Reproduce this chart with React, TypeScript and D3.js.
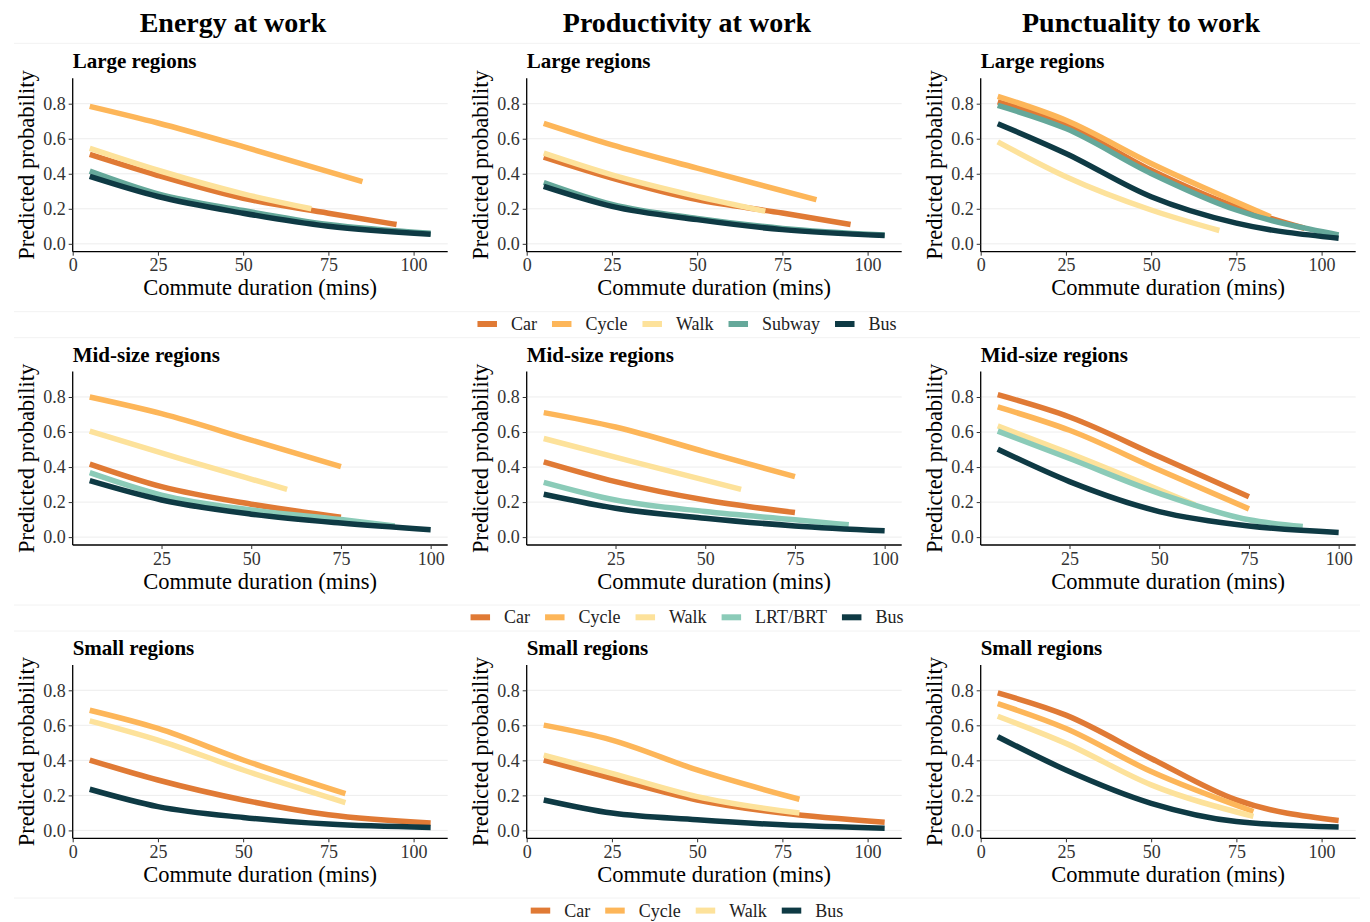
import React, { useEffect, useRef } from 'react';
import * as d3 from 'd3';

type Series = { mode: string; mins: number[]; p: number[] };

const outcomes = ['Energy at work', 'Productivity at work', 'Punctuality to work'];
const regionTitles = ['Large regions', 'Mid-size regions', 'Small regions'];
const legendModes = [
    ['Car', 'Cycle', 'Walk', 'Subway', 'Bus'],
    ['Car', 'Cycle', 'Walk', 'LRT/BRT', 'Bus'],
    ['Car', 'Cycle', 'Walk', 'Bus'],
];
const modeColors: Record<string, string> = {
    Car: '#E07A35',
    Cycle: '#FDB659',
    Walk: '#FDE29B',
    Subway: '#65A89A',
    'LRT/BRT': '#8BCBB8',
    Bus: '#0E3A44',
};
const yTicks = [0, 0.2, 0.4, 0.6, 0.8];
const xTicks = [0, 25, 50, 75, 100];

// predicted probabilities, per panel
const energyLarge: Series[] = [
    { mode: 'Car', mins: [5, 25, 50, 75, 95], p: [0.51, 0.39, 0.26, 0.175, 0.11] },
    { mode: 'Cycle', mins: [5, 25, 50, 85], p: [0.785, 0.69, 0.555, 0.355] },
    { mode: 'Walk', mins: [5, 25, 50, 70], p: [0.545, 0.42, 0.285, 0.2] },
    { mode: 'Subway', mins: [5, 25, 50, 75, 105], p: [0.415, 0.285, 0.19, 0.11, 0.06] },
    { mode: 'Bus', mins: [5, 25, 50, 75, 105], p: [0.385, 0.27, 0.175, 0.1, 0.055] },
];
const productivityLarge: Series[] = [
    { mode: 'Car', mins: [5, 25, 50, 75, 95], p: [0.495, 0.375, 0.252, 0.176, 0.11] },
    { mode: 'Cycle', mins: [5, 25, 50, 85], p: [0.688, 0.565, 0.432, 0.252] },
    { mode: 'Walk', mins: [5, 25, 50, 70], p: [0.518, 0.394, 0.271, 0.186] },
    { mode: 'Subway', mins: [5, 25, 50, 75, 105], p: [0.35, 0.225, 0.145, 0.088, 0.05] },
    { mode: 'Bus', mins: [5, 25, 50, 75, 105], p: [0.328, 0.214, 0.138, 0.081, 0.047] },
];
const punctualityLarge: Series[] = [
    { mode: 'Car', mins: [5, 25, 50, 75, 95], p: [0.81, 0.68, 0.42, 0.21, 0.089] },
    { mode: 'Cycle', mins: [5, 25, 50, 85], p: [0.842, 0.705, 0.459, 0.155] },
    { mode: 'Walk', mins: [5, 25, 50, 70], p: [0.582, 0.383, 0.193, 0.076] },
    { mode: 'Subway', mins: [5, 25, 50, 75, 105], p: [0.79, 0.658, 0.402, 0.193, 0.051] },
    { mode: 'Bus', mins: [5, 25, 50, 75, 105], p: [0.686, 0.516, 0.269, 0.118, 0.032] },
];

const energyMid: Series[] = [
    { mode: 'Car', mins: [5, 25, 50, 75], p: [0.417, 0.288, 0.188, 0.114] },
    { mode: 'Cycle', mins: [5, 25, 50, 75], p: [0.8, 0.705, 0.554, 0.402] },
    { mode: 'Walk', mins: [5, 30, 60], p: [0.605, 0.449, 0.273] },
    { mode: 'LRT/BRT', mins: [5, 25, 50, 75, 90], p: [0.368, 0.24, 0.155, 0.1, 0.064] },
    { mode: 'Bus', mins: [5, 25, 50, 75, 100], p: [0.322, 0.212, 0.131, 0.08, 0.042] },
];
const productivityMid: Series[] = [
    { mode: 'Car', mins: [5, 25, 50, 75], p: [0.43, 0.317, 0.212, 0.14] },
    { mode: 'Cycle', mins: [5, 25, 50, 75], p: [0.711, 0.629, 0.487, 0.345] },
    { mode: 'Walk', mins: [5, 30, 60], p: [0.563, 0.43, 0.273] },
    { mode: 'LRT/BRT', mins: [5, 25, 50, 75, 90], p: [0.313, 0.212, 0.146, 0.099, 0.07] },
    { mode: 'Bus', mins: [5, 25, 50, 75, 100], p: [0.245, 0.165, 0.108, 0.064, 0.036] },
];
const punctualityMid: Series[] = [
    { mode: 'Car', mins: [5, 25, 50, 75], p: [0.813, 0.686, 0.459, 0.231] },
    { mode: 'Cycle', mins: [5, 25, 50, 75], p: [0.743, 0.61, 0.383, 0.161] },
    { mode: 'Walk', mins: [5, 25, 60], p: [0.635, 0.478, 0.184] },
    { mode: 'LRT/BRT', mins: [5, 25, 50, 75, 90], p: [0.605, 0.449, 0.25, 0.099, 0.061] },
    { mode: 'Bus', mins: [5, 25, 50, 75, 100], p: [0.502, 0.317, 0.146, 0.064, 0.027] },
];

const energySmall: Series[] = [
    { mode: 'Car', mins: [5, 25, 50, 75, 105], p: [0.402, 0.288, 0.174, 0.089, 0.042] },
    { mode: 'Cycle', mins: [5, 25, 50, 80], p: [0.686, 0.582, 0.402, 0.21] },
    { mode: 'Walk', mins: [5, 25, 50, 80], p: [0.626, 0.516, 0.345, 0.159] },
    { mode: 'Bus', mins: [5, 25, 50, 75, 105], p: [0.235, 0.136, 0.074, 0.036, 0.017] },
];
const productivitySmall: Series[] = [
    { mode: 'Car', mins: [5, 25, 50, 75, 105], p: [0.402, 0.298, 0.174, 0.099, 0.047] },
    { mode: 'Cycle', mins: [5, 25, 50, 80], p: [0.601, 0.516, 0.345, 0.178] },
    { mode: 'Walk', mins: [5, 25, 50, 80], p: [0.43, 0.326, 0.193, 0.099] },
    { mode: 'Bus', mins: [5, 25, 50, 75, 105], p: [0.174, 0.099, 0.061, 0.032, 0.013] },
];
const punctualitySmall: Series[] = [
    { mode: 'Car', mins: [5, 25, 50, 75, 105], p: [0.785, 0.658, 0.411, 0.174, 0.057] },
    { mode: 'Cycle', mins: [5, 25, 50, 80], p: [0.724, 0.582, 0.336, 0.108] },
    { mode: 'Walk', mins: [5, 25, 50, 80], p: [0.652, 0.497, 0.26, 0.08] },
    { mode: 'Bus', mins: [5, 25, 50, 75, 105], p: [0.535, 0.345, 0.155, 0.051, 0.019] },
];

const panelRows: Series[][][] = [
    [energyLarge, productivityLarge, punctualityLarge],
    [energyMid, productivityMid, punctualityMid],
    [energySmall, productivitySmall, punctualitySmall],
];

const WIDTH = 1370;
const HEIGHT = 922;
const SERIF = '"Liberation Serif", "Times New Roman", Times, serif';

function App() {
    const svgRef = useRef<SVGSVGElement | null>(null);

    useEffect(() => {
        if (!svgRef.current) return;
        const svg = d3.select(svgRef.current);
        svg.selectAll('*').remove();

        svg.append('rect').attr('width', WIDTH).attr('height', HEIGHT).attr('fill', '#fff');

        const colStep = 454;
        const rowStep = 293.3;
        const plotLeft0 = 72.7;
        const plotW = 375;
        const plotTop0 = 78.3;
        const plotH = 173.4;

        // faint separators between the title band, panels and legends
        [43.3, 311.7, 337.7, 605, 631, 898].forEach(y => {
            svg.append('line')
                .attr('x1', 14).attr('x2', WIDTH - 10)
                .attr('y1', y).attr('y2', y)
                .attr('stroke', '#f2f2f2').attr('stroke-width', 1);
        });

        // column titles
        outcomes.forEach((t, c) => {
            svg.append('text')
                .attr('x', 233 + colStep * c)
                .attr('y', 31.7)
                .attr('text-anchor', 'middle')
                .style('font-family', SERIF)
                .style('font-weight', 'bold')
                .style('font-size', '28px')
                .style('fill', '#000')
                .text(t);
        });

        const yScale0 = d3.scaleLinear().domain([-0.045, 0.945]);
        const line = d3.line<[number, number]>().curve(d3.curveMonotoneX);

        panelRows.forEach((row, r) => {
            // shared x range per row, with ggplot's 5% expansion
            const allMins = row.flatMap(panel => panel.flatMap(s => s.mins));
            const [mn, mx] = d3.extent(allMins) as [number, number];
            const pad = (mx - mn) * 0.05;

            row.forEach((panel, c) => {
                const left = plotLeft0 + colStep * c;
                const top = plotTop0 + rowStep * r;
                const bottom = top + plotH;

                const x = d3.scaleLinear().domain([mn - pad, mx + pad]).range([left, left + plotW]);
                const y = yScale0.copy().range([bottom, top]);

                const g = svg.append('g');

                // gridlines
                g.selectAll('.grid')
                    .data(yTicks)
                    .join('line')
                    .attr('x1', left).attr('x2', left + plotW)
                    .attr('y1', d => y(d)).attr('y2', d => y(d))
                    .attr('stroke', '#ebebeb').attr('stroke-width', 0.9);

                // curves
                panel.forEach(s => {
                    const pts = s.mins.map((m, i) => [x(m), y(s.p[i])] as [number, number]);
                    g.append('path')
                        .attr('d', line(pts))
                        .attr('fill', 'none')
                        .attr('stroke', modeColors[s.mode])
                        .attr('stroke-width', 5.5)
                        .attr('stroke-linecap', 'butt');
                });

                // axes
                const xAxis = d3.axisBottom(x)
                    .tickValues(xTicks.filter(v => v >= mn - pad && v <= mx + pad))
                    .tickSize(4).tickPadding(3)
                    .tickFormat(d => String(d));
                const yAxis = d3.axisLeft(y)
                    .tickValues(yTicks)
                    .tickSize(4).tickPadding(3)
                    .tickFormat(d3.format('.1f'));

                const gx = g.append('g').attr('transform', `translate(0,${bottom})`).call(xAxis);
                const gy = g.append('g').attr('transform', `translate(${left},0)`).call(yAxis);
                [gx, gy].forEach(ax => {
                    ax.select('.domain').attr('stroke', '#000').attr('stroke-width', 1.3);
                    ax.selectAll('.tick line').attr('stroke', '#333').attr('stroke-width', 1);
                    ax.selectAll('.tick text')
                        .style('font-family', SERIF)
                        .style('font-size', '18px')
                        .style('fill', '#333');
                });
                // straight domain lines without outer ticks
                gx.select('.domain').attr('d', `M${left},0H${left + plotW}`);
                gy.select('.domain').attr('d', `M0,${top}V${bottom}`);

                // panel subtitle
                g.append('text')
                    .attr('x', left)
                    .attr('y', top - 10)
                    .style('font-family', SERIF)
                    .style('font-weight', 'bold')
                    .style('font-size', '21px')
                    .style('fill', '#000')
                    .text(regionTitles[r]);

                // axis titles
                g.append('text')
                    .attr('x', left + plotW / 2)
                    .attr('y', bottom + 43.5)
                    .attr('text-anchor', 'middle')
                    .style('font-family', SERIF)
                    .style('font-size', '22.5px')
                    .style('fill', '#000')
                    .text('Commute duration (mins)');

                g.append('text')
                    .attr('transform', `translate(${left - 39},${(top + bottom) / 2}) rotate(-90)`)
                    .attr('text-anchor', 'middle')
                    .style('font-family', SERIF)
                    .style('font-size', '22.5px')
                    .style('fill', '#000')
                    .text('Predicted probability');
            });

            // legend for the row
            const legendY = 324 + rowStep * r;
            const keyW = 19.5;
            const keyH = 6;
            const keyGap = 14;
            const itemGap = 15;
            const lg = svg.append('g');
            const items = legendModes[r].map(mode => {
                const item = lg.append('g');
                item.append('rect')
                    .attr('width', keyW).attr('height', keyH)
                    .attr('y', -keyH / 2)
                    .attr('fill', modeColors[mode]);
                const txt = item.append('text')
                    .attr('x', keyW + keyGap)
                    .attr('y', 6)
                    .style('font-family', SERIF)
                    .style('font-size', '18px')
                    .style('fill', '#222')
                    .text(mode);
                const w = (txt.node() as SVGTextElement).getComputedTextLength();
                return { item, w: keyW + keyGap + w };
            });
            const total = d3.sum(items, d => d.w) + itemGap * (items.length - 1);
            let cx = 687 - total / 2;
            items.forEach(({ item, w }) => {
                item.attr('transform', `translate(${cx},${legendY})`);
                cx += w + itemGap;
            });
        });
    }, []);

    return (
        <div style={{ position: 'absolute', left: 0, top: 0 }}>
            <svg ref={svgRef} width={WIDTH} height={HEIGHT}></svg>
        </div>
    );
}

export default App;
